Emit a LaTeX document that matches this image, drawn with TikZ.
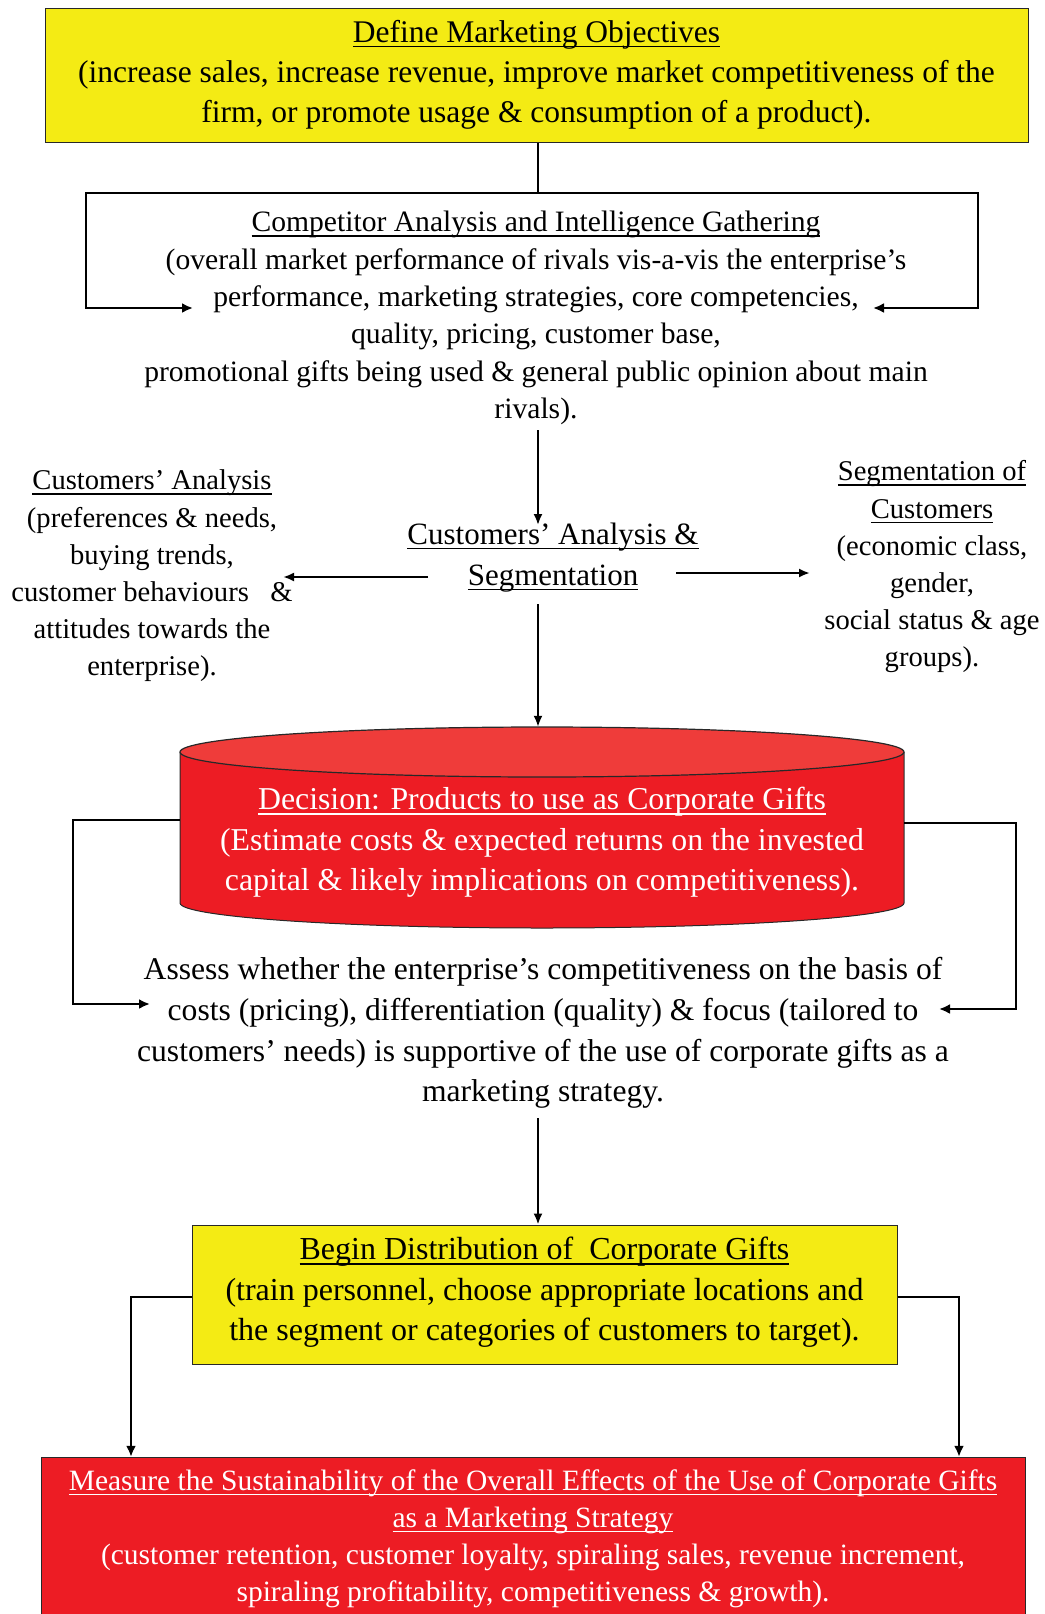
\documentclass[tikz,border=0pt]{standalone}
\usepackage{fontspec}
\setmainfont{Liberation Serif}
\usetikzlibrary{arrows.meta}
\definecolor{boxyellow}{RGB}{244,235,20}
\definecolor{boxred}{RGB}{237,28,36}
\definecolor{topred}{RGB}{239,60,58}
\definecolor{edge}{RGB}{40,40,40}
\newcommand\myul[1]{\setbox0\hbox{#1}\rlap{\rule[-5pt]{\wd0}{1.6pt}}\box0}
\begin{document}
\begin{tikzpicture}[x=1pt,y=-1pt,
  txt/.style={align=center, inner sep=0pt, text=black, font=\fontsize{31.5}{40}\selectfont},
  sidetxt/.style={align=center, inner sep=0pt, text=black, font=\fontsize{28.6}{37.2}\selectfont},
  wtxt/.style={align=center, inner sep=0pt, text=white, font=\fontsize{31.8}{40.5}\selectfont},
  btxt/.style={align=center, inner sep=0pt, text=white, font=\fontsize{29.5}{37}\selectfont},
  ybox/.style={draw=edge, line width=1pt, fill=boxyellow},
  arr/.style={-{Latex[length=11pt,width=9pt]}, line width=2pt, draw=black},
  loop/.style={line width=2.8pt, draw=black, -{Latex[length=11pt,width=10pt]}},
  plain/.style={line width=2pt, draw=black}]
\useasboundingbox (0,0) rectangle (1044,1614);
\clip (0,0) rectangle (1044,1614);

% Top objective box
\node[ybox, minimum width=983pt, minimum height=134pt, inner sep=0pt] (obj) at (536.5,75) {};
\node[txt] (objt) at (536.5,74.5) {\myul{Define Marketing Objectives}\\(increase sales, increase revenue, improve market competitiveness of the\\firm, or promote usage \& consumption of a product).};

% Competitor analysis
\node[txt, font=\fontsize{29.6}{37.4}\selectfont] (comp) at (536,318) {\myul{Competitor Analysis and Intelligence Gathering}\\(overall market performance of rivals vis-a-vis the enterprise’s\\performance, marketing strategies, core competencies,\\quality, pricing, customer base,\\promotional gifts being used \& general public opinion about main\\rivals).};
\coordinate (ctop) at (538,193);
\coordinate (cl1) at (86,193);
\coordinate (cl2) at (86,308);
\coordinate (cl3) at (193,308);
\coordinate (cr1) at (978,193);
\coordinate (cr2) at (978,308);
\coordinate (cr3) at (873,308);
\draw[plain] (obj.south -| ctop) -- (ctop);
\draw[loop] (ctop) -- (cl1) -- (cl2) -- (cl3);
\draw[loop] (ctop) -- (cr1) -- (cr2) -- (cr3);

% Customers analysis & segmentation
\node[txt, font=\fontsize{31}{41}\selectfont] (cas) at (553,557.5) {\myul{Customers’ Analysis \&}\\\myul{Segmentation}};
\coordinate (compout) at (538,430);
\coordinate (casin) at (538,525);
\draw[arr] (compout) -- (casin);

\node[sidetxt] (cana) at (152,576) {\myul{Customers’ Analysis}\\(preferences \& needs,\\buying trends,\\customer behaviours\ \ \ \&\\attitudes towards the\\enterprise).};
\node[sidetxt] (cseg) at (932,567) {\myul{Segmentation of}\\\myul{Customers}\\(economic class,\\gender,\\social status \& age\\groups).};
\coordinate (casl) at (428,577);
\coordinate (canar) at (283,577);
\coordinate (casr) at (676,573);
\coordinate (csegl) at (810,573);
\draw[arr, line width=2.5pt] (casl) -- (canar);
\draw[arr, line width=2.5pt] (casr) -- (csegl);

% Cylinder
\fill[boxred] (180,752) rectangle (904,903);
\fill[boxred] (542,903) ellipse [x radius=362, y radius=25];
\draw[edge, line width=1pt] (180,752) -- (180,903) arc[start angle=180, end angle=0, x radius=362, y radius=25] -- (904,752);
\filldraw[fill=topred, draw=edge, line width=1.2pt] (542,752) ellipse [x radius=362, y radius=25];
\node[minimum width=724pt, minimum height=201pt, inner sep=0pt] (cyl) at (542,827.5) {};
\node[wtxt] (dec) at (542,842.5) {\myul{Decision: Products to use as Corporate Gifts}\\(Estimate costs \& expected returns on the invested\\capital \& likely implications on competitiveness).};
\coordinate (casout) at (538,604);
\draw[arr] (casout) -- (casout |- cyl.north);

% Assess
\node[txt, font=\fontsize{31.6}{40.7}\selectfont] (assess) at (543,1033) {Assess whether the enterprise’s competitiveness on the basis of\\costs (pricing), differentiation (quality) \& focus (tailored to\\customers’ needs) is supportive of the use of corporate gifts as a\\marketing strategy.};
\coordinate (al1) at (73,820);
\coordinate (al2) at (73,1004);
\coordinate (al3) at (150,1004);
\coordinate (ar1) at (1016,823);
\coordinate (ar2) at (1016,1009);
\coordinate (ar3) at (939,1009);
\draw[loop, line width=2.3pt] (cyl.west |- al1) -- (al1) -- (al2) -- (al3);
\draw[loop, line width=2.3pt] (cyl.east |- ar1) -- (ar1) -- (ar2) -- (ar3);

% Begin distribution
\node[ybox, minimum width=705pt, minimum height=139pt, inner sep=0pt] (dist) at (544.5,1294.5) {};
\node[txt, font=\fontsize{32}{40.5}\selectfont] (distt) at (544.5,1292.5) {\myul{Begin Distribution of\ \ Corporate Gifts}\\(train personnel, choose appropriate locations and\\the segment or categories of customers to target).};
\coordinate (assout) at (538,1118);
\draw[arr] (assout) -- (assout |- dist.north);

% Measure box
\fill[boxred, draw=edge, line width=1pt] (41,1457) rectangle (1025,1640);
\node[minimum width=984pt, minimum height=183pt, inner sep=0pt] (meas) at (533,1548.5) {};
\node[btxt] (meast) at (533,1538.5) {\myul{Measure the Sustainability of the Overall Effects of the Use of Corporate Gifts}\\\myul{as a Marketing Strategy}\\(customer retention, customer loyalty, spiraling sales, revenue increment,\\spiraling profitability, competitiveness \& growth).};
\coordinate (dl1) at (131,1297);
\coordinate (dr1) at (959,1297);
\draw[loop, line width=2.5pt] (dist.west |- dl1) -- (dl1) -- (dl1 |- meas.north);
\draw[loop, line width=2.5pt] (dist.east |- dr1) -- (dr1) -- (dr1 |- meas.north);
\end{tikzpicture}
\end{document}
